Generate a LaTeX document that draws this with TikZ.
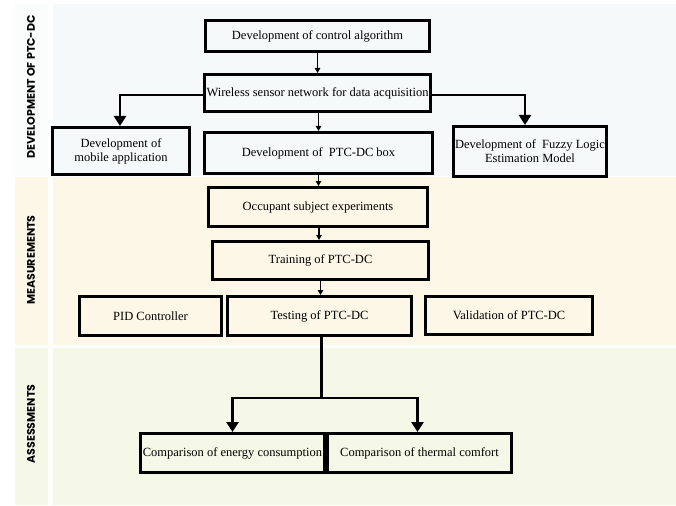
\documentclass[tikz,border=0pt]{standalone}
\usepackage{fontspec}
\setmainfont{Liberation Serif}
\newfontfamily\bandfont{Poppins}
\usetikzlibrary{arrows.meta}
\definecolor{bandtop}{HTML}{F5F9F9}
\definecolor{bandtopstrip}{HTML}{FBFDFD}
\definecolor{bandmid}{HTML}{FDF7E7}
\definecolor{bandbot}{HTML}{F5F8E7}
\tikzset{
  box/.style={draw=black, line width=3pt, rectangle, inner sep=0.5pt, align=center,
    font=\fontsize{12.5}{14}\selectfont, fill=none},
  bigarrow/.style={line width=2.5pt, -{Triangle[width=12pt,length=10pt]}},
  smallarrow/.style={line width=1.5pt, -{Triangle[width=5.5pt,length=5pt]}},
  plainline/.style={line width=2.5pt},
  bandlabel/.style={rotate=90, font=\bandfont\bfseries\fontsize{11}{13}\selectfont, text=black}
}
\begin{document}
\begin{tikzpicture}[x=1pt,y=-1pt]
\useasboundingbox (0,0) rectangle (676,505);
% bands
\fill[bandtopstrip] (15,4) rectangle (48,176);
\fill[bandtop] (53,4) rectangle (676,176);
\fill[bandmid] (15,177) rectangle (48,345);
\fill[bandmid] (53,177) rectangle (676,345);
\fill[bandbot] (15,348) rectangle (48,505);
\fill[bandbot] (53,348) rectangle (676,505);
\node[bandlabel] (l1) at (31,87) {DEVELOPMENT OF PTC-DC};
\node[bandlabel] (l2) at (31,260) {MEASUREMENTS};
\node[bandlabel] (l3) at (31,424) {ASSESSMENTS};
% boxes
\node[box, minimum width=224pt, minimum height=31pt] (ctrl) at (317.5,36) {Development of control algorithm};
\node[box, minimum width=226pt, minimum height=37pt] (wsn) at (317.5,93) {Wireless sensor network for data acquisition};
\node[box, minimum width=137pt, minimum height=47pt] (mob) at (121,151) {Development of\\mobile application};
\node[box, minimum width=228pt, minimum height=41pt] (ptc) at (318.5,153) {Development of\ \ PTC-DC box};
\node[box, minimum width=153pt, minimum height=50pt] (fuz) at (530,151.5) {Development of\ \ Fuzzy Logic\\Estimation Model};
\node[box, minimum width=219pt, minimum height=39pt] (occ) at (318,207) {Occupant subject experiments};
\node[box, minimum width=216pt, minimum height=38pt] (train) at (320.5,260.5) {Training of PTC-DC};
\node[box, minimum width=142pt, minimum height=39pt] (pid) at (150.5,316) {PID Controller};
\node[box, minimum width=184pt, minimum height=39pt] (test) at (319.5,316) {Testing of PTC-DC};
\node[box, minimum width=167pt, minimum height=38pt] (valid) at (509,315.5) {Validation of PTC-DC};
\node[box, minimum width=184pt, minimum height=39pt] (energy) at (232.5,453) {Comparison of energy consumption};
\node[box, minimum width=184pt, minimum height=39pt] (therm) at (419.5,453) {Comparison of thermal comfort};
% connectors
\draw[smallarrow] (ctrl.south) -- (ctrl.south |- wsn.north);
\draw[smallarrow] ([xshift=1pt]wsn.south) -- ([xshift=1pt]wsn.south |- ptc.north);
\draw[bigarrow] ([yshift=-2pt]wsn.west) -| ([xshift=-1pt]mob.north);
\draw[bigarrow] ([yshift=-2pt]wsn.east) -| ([xshift=-5pt]fuz.north);
\draw[smallarrow] ([xshift=0pt]ptc.south) -- (ptc.south |- occ.north);
\draw[smallarrow] ([xshift=1pt]occ.south) -- ([xshift=1pt]occ.south |- train.north);
\draw[smallarrow] (train.south) -- (train.south |- test.north);
\coordinate (split) at ([xshift=2pt]test.south |- 0,398);
\draw[plainline] ([xshift=2pt]test.south) -- (split);
\draw[bigarrow] (split) -| (energy.north);
\draw[bigarrow] (split) -| ([xshift=-2pt]therm.north);
\end{tikzpicture}
\end{document}
